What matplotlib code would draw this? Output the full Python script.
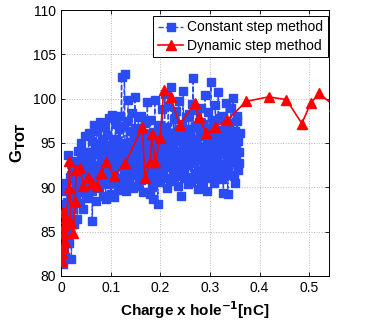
import matplotlib
matplotlib.use("Agg")
import matplotlib.pyplot as plt

plt.rcParams["font.family"] = ["Liberation Sans", "DejaVu Sans"]

# constant step method (charge per hole in nC, G_TOT)
const_x = [
    0.000, 0.002, 0.001, 0.004, 0.003, 0.006, 0.005, 0.008, 0.007, 0.010,
    0.011, 0.013, 0.012, 0.015, 0.016, 0.018, 0.017, 0.020, 0.021, 0.023,
    0.024, 0.026, 0.027, 0.029, 0.030, 0.032, 0.033, 0.035, 0.036, 0.038,
    0.039, 0.041, 0.042, 0.044, 0.045, 0.047, 0.048, 0.050, 0.051, 0.053,
    0.054, 0.056, 0.057, 0.059, 0.060, 0.062, 0.063, 0.065, 0.066, 0.068,
    0.069, 0.071, 0.072, 0.074, 0.075, 0.077, 0.078, 0.080, 0.081, 0.083,
    0.084, 0.086, 0.087, 0.089, 0.090, 0.092, 0.093, 0.095, 0.096, 0.098,
    0.099, 0.101, 0.102, 0.104, 0.105, 0.107, 0.108, 0.110, 0.111, 0.113,
    0.114, 0.116, 0.117, 0.119, 0.120, 0.122, 0.123, 0.125, 0.126, 0.128,
    0.129, 0.131, 0.132, 0.134, 0.135, 0.137, 0.138, 0.140, 0.141, 0.143,
    0.144, 0.146, 0.147, 0.149, 0.150, 0.152, 0.153, 0.155, 0.156, 0.158,
    0.159, 0.161, 0.162, 0.164, 0.165, 0.167, 0.168, 0.170, 0.171, 0.173,
    0.174, 0.176, 0.177, 0.179, 0.180, 0.182, 0.183, 0.185, 0.186, 0.188,
    0.189, 0.191, 0.192, 0.194, 0.195, 0.197, 0.198, 0.200, 0.201, 0.203,
    0.204, 0.206, 0.207, 0.209, 0.210, 0.212, 0.213, 0.215, 0.216, 0.218,
    0.219, 0.221, 0.222, 0.224, 0.225, 0.227, 0.228, 0.230, 0.231, 0.233,
    0.234, 0.236, 0.237, 0.239, 0.240, 0.242, 0.243, 0.245, 0.246, 0.248,
    0.249, 0.251, 0.252, 0.254, 0.255, 0.257, 0.258, 0.260, 0.261, 0.263,
    0.264, 0.266, 0.267, 0.269, 0.270, 0.272, 0.273, 0.275, 0.276, 0.278,
    0.279, 0.281, 0.282, 0.284, 0.285, 0.287, 0.288, 0.290, 0.291, 0.293,
    0.294, 0.296, 0.297, 0.299, 0.300, 0.302, 0.303, 0.305, 0.306, 0.308,
    0.309, 0.311, 0.312, 0.314, 0.315, 0.317, 0.318, 0.320, 0.321, 0.323,
    0.324, 0.326, 0.327, 0.329, 0.330, 0.332, 0.333, 0.335, 0.336, 0.338,
    0.339, 0.341, 0.342, 0.344, 0.345, 0.347, 0.348, 0.350, 0.351, 0.353,
    0.354, 0.356, 0.357, 0.359, 0.360, 0.358, 0.355, 0.352, 0.349, 0.346,
    # second pass back through the core of the cloud
    0.343, 0.340, 0.337, 0.334, 0.331, 0.328, 0.325, 0.322, 0.319, 0.316,
    0.313, 0.310, 0.307, 0.304, 0.301, 0.298, 0.295, 0.292, 0.289, 0.286,
    0.283, 0.280, 0.277, 0.274, 0.271, 0.268, 0.265, 0.262, 0.259, 0.256,
    0.253, 0.250, 0.247, 0.244, 0.241, 0.238, 0.235, 0.232, 0.229, 0.226,
    0.223, 0.220, 0.217, 0.214, 0.211, 0.208, 0.205, 0.202, 0.199, 0.196,
    0.193, 0.190, 0.187, 0.184, 0.181, 0.178, 0.175, 0.172, 0.169, 0.166,
    0.163, 0.160, 0.157, 0.154, 0.151, 0.148, 0.145, 0.142, 0.139, 0.136,
    0.133, 0.130, 0.127, 0.124, 0.121, 0.118, 0.115, 0.112, 0.109, 0.106,
    0.103, 0.100, 0.097, 0.094, 0.091, 0.088, 0.085, 0.082, 0.079, 0.076,
    0.073, 0.070, 0.067, 0.064, 0.061, 0.058, 0.055, 0.052, 0.049, 0.046,
    0.043, 0.040, 0.037, 0.034, 0.031,
]
const_y = [
    89.6, 84.2, 86.5, 81.3, 88.1, 83.0, 85.7, 82.1, 87.4, 84.8,
    90.5, 85.0, 88.3, 93.6, 86.9, 91.2, 83.7, 89.4, 81.9, 92.0,
    87.6, 90.8, 85.9, 93.0, 88.7, 91.9, 86.4, 94.1, 89.5, 92.6,
    88.2, 95.0, 90.3, 93.4, 87.5, 91.7, 95.8, 89.1, 94.0, 92.2,
    88.8, 96.1, 90.9, 93.7, 89.6, 95.2, 86.2, 92.5, 97.0, 90.0,
    94.6, 88.5, 96.4, 91.3, 93.9, 89.9, 97.4, 92.8, 90.6, 95.5,
    89.0, 94.3, 91.6, 96.8, 88.7, 93.1, 95.9, 90.4, 97.8, 92.0,
    94.8, 89.3, 98.2, 91.9, 95.3, 88.9, 93.6, 97.1, 90.7, 94.0,
    89.7, 96.6, 92.4, 98.0, 90.2, 102.5, 94.5, 91.1, 96.9, 102.8,
    93.3, 89.6, 97.5, 91.8, 99.9, 94.2, 90.5, 96.3, 92.7, 98.4,
    95.1, 89.9, 93.8, 100.2, 91.4, 96.7, 90.1, 94.9, 97.9, 92.3,
    95.6, 90.8, 98.1, 93.0, 89.5, 96.0, 92.6, 97.3, 91.0, 94.4,
    99.6, 92.1, 95.4, 89.2, 97.6, 93.5, 90.0, 96.2, 88.7, 94.7,
    99.8, 91.7, 95.7, 92.9, 88.1, 97.0, 93.2, 90.6, 96.5, 94.1,
    98.8, 91.5, 95.0, 100.5, 92.4, 96.8, 89.9, 94.3, 99.2, 93.0,
    96.1, 90.7, 101.3, 94.6, 92.0, 97.7, 95.2, 91.3, 98.6, 93.7,
    96.4, 90.2, 99.7, 92.8, 95.5, 89.0, 97.2, 93.9, 100.9, 91.6,
    94.8, 97.9, 92.5, 95.9, 90.4, 98.3, 93.4, 96.6, 91.2, 99.4,
    94.0, 102.3, 92.7, 96.9, 90.9, 95.3, 98.7, 93.1, 89.8, 97.4,
    94.5, 91.8, 99.0, 95.8, 90.1, 97.1, 93.6, 100.4, 92.3, 96.0,
    89.6, 94.9, 98.5, 92.0, 96.7, 101.9, 93.8, 91.1, 97.6, 95.1,
    90.5, 99.3, 93.2, 96.2, 92.6, 100.8, 94.4, 91.6, 97.8, 95.4,
    92.2, 98.1, 89.4, 95.0, 96.8, 91.9, 99.5, 93.5, 89.2, 97.3,
    94.1, 91.4, 98.9, 95.6, 92.9, 100.1, 94.7, 90.5, 96.4, 93.3,
    97.5, 91.9, 95.2, 94.0, 96.1, 92.7, 98.0, 94.8, 91.3, 95.9,
    93.6, 96.3, 91.8, 94.5, 92.4, 95.7, 90.9, 93.9, 96.5, 92.1,
    94.9, 91.5, 95.4, 93.0, 96.2, 91.2, 94.2, 92.8, 95.9, 90.8,
    93.5, 96.4, 92.0, 94.7, 91.6, 95.1, 93.3, 90.6, 96.0, 92.5,
    94.4, 91.1, 95.6, 93.8, 92.2, 96.6, 91.4, 94.0, 92.9, 95.3,
    90.9, 93.7, 96.1, 92.3, 94.8, 91.0, 95.5, 93.1, 91.7, 96.3,
    92.6, 94.3, 90.7, 95.8, 93.4, 91.9, 94.6, 92.7, 96.0, 91.3,
    93.9, 95.2, 90.8, 94.1, 92.0, 95.7, 91.5, 93.2, 94.9, 90.6,
    92.9, 95.0, 91.4, 93.6, 92.4, 94.7, 90.9, 93.0, 95.4, 91.8,
    92.6, 94.2, 91.1, 93.5, 92.1, 94.8, 90.7, 93.3, 91.9, 94.5,
    92.3, 90.8, 93.8, 91.6, 92.9, 94.0, 91.0, 92.5, 93.4, 90.4,
    91.7, 93.1, 90.2, 92.0, 89.8,
]

# dynamic step method
dyn_x = [0.002, 0.004, 0.006, 0.003, 0.004, 0.007, 0.008, 0.010, 0.016, 0.017,
         0.020, 0.025, 0.028, 0.031, 0.038, 0.045, 0.054, 0.063, 0.072, 0.081,
         0.091, 0.107, 0.129, 0.164, 0.169, 0.180, 0.183, 0.190, 0.200, 0.207,
         0.221, 0.239, 0.269, 0.277, 0.293, 0.310, 0.335, 0.373, 0.418, 0.454,
         0.485, 0.503, 0.520, 0.550]
dyn_y = [81.7, 83.3, 84.8, 82.6, 87.2, 85.6, 83.8, 86.5, 89.9, 93.0,
         86.0, 84.9, 88.5, 91.9, 92.2, 90.2, 91.2, 90.5, 90.2, 91.6,
         92.9, 91.3, 92.7, 96.8, 91.1, 92.8, 96.0, 92.8, 95.6, 101.0,
         100.2, 97.0, 99.5, 97.9, 96.1, 96.8, 97.6, 99.7, 100.2, 99.9,
         97.2, 99.5, 100.6, 99.2]

x_ticks = [0, 0.1, 0.2, 0.3, 0.4, 0.5]
x_ticklabels = ["0", "0.1", "0.2", "0.3", "0.4", "0.5"]
y_ticks = [80, 85, 90, 95, 100, 105, 110]

fig = plt.figure(figsize=(3.74, 3.25), dpi=100)
ax = fig.add_axes([0.163, 0.151, 0.717, 0.818])

ax.plot(const_x, const_y, linestyle="--", color="#2b4cf2", linewidth=1.0,
        marker="s", markersize=5.6, markerfacecolor="#2b4cf2",
        markeredgecolor="#2b4cf2", label="Constant step method", zorder=2)
ax.plot(dyn_x, dyn_y, linestyle="-", color="#ff0000", linewidth=1.2,
        marker="^", markersize=6.8, markerfacecolor="#ff0000",
        markeredgecolor="#ff0000", label="Dynamic step method", zorder=3)

ax.set_xlim(0, 0.54)
ax.set_ylim(80, 110)
ax.set_xticks(x_ticks)
ax.set_xticklabels(x_ticklabels)
ax.set_yticks(y_ticks)
ax.tick_params(direction="in", top=True, right=True, labelsize=10,
               length=3, width=0.6)
ax.grid(True, linestyle=":", color="#b8b8b8", linewidth=0.7, zorder=0)
for s in ax.spines.values():
    s.set_linewidth(0.7)

ax.set_xlabel(r"Charge x hole$^{\mathbf{-1}}$[nC]", fontsize=11,
              fontweight="bold", labelpad=3)
ax.set_ylabel(r"G$_{\mathbf{TOT}}$", fontsize=12, fontweight="bold")

leg = ax.legend(loc="upper right", bbox_to_anchor=(1.007, 0.99), fontsize=10,
                frameon=True, fancybox=False, framealpha=1,
                edgecolor="black", handlelength=1.8, borderpad=0.35,
                labelspacing=0.3, handletextpad=0.3, borderaxespad=0.2)
leg.get_frame().set_linewidth(0.7)

fig.savefig("out.png", dpi=100)
